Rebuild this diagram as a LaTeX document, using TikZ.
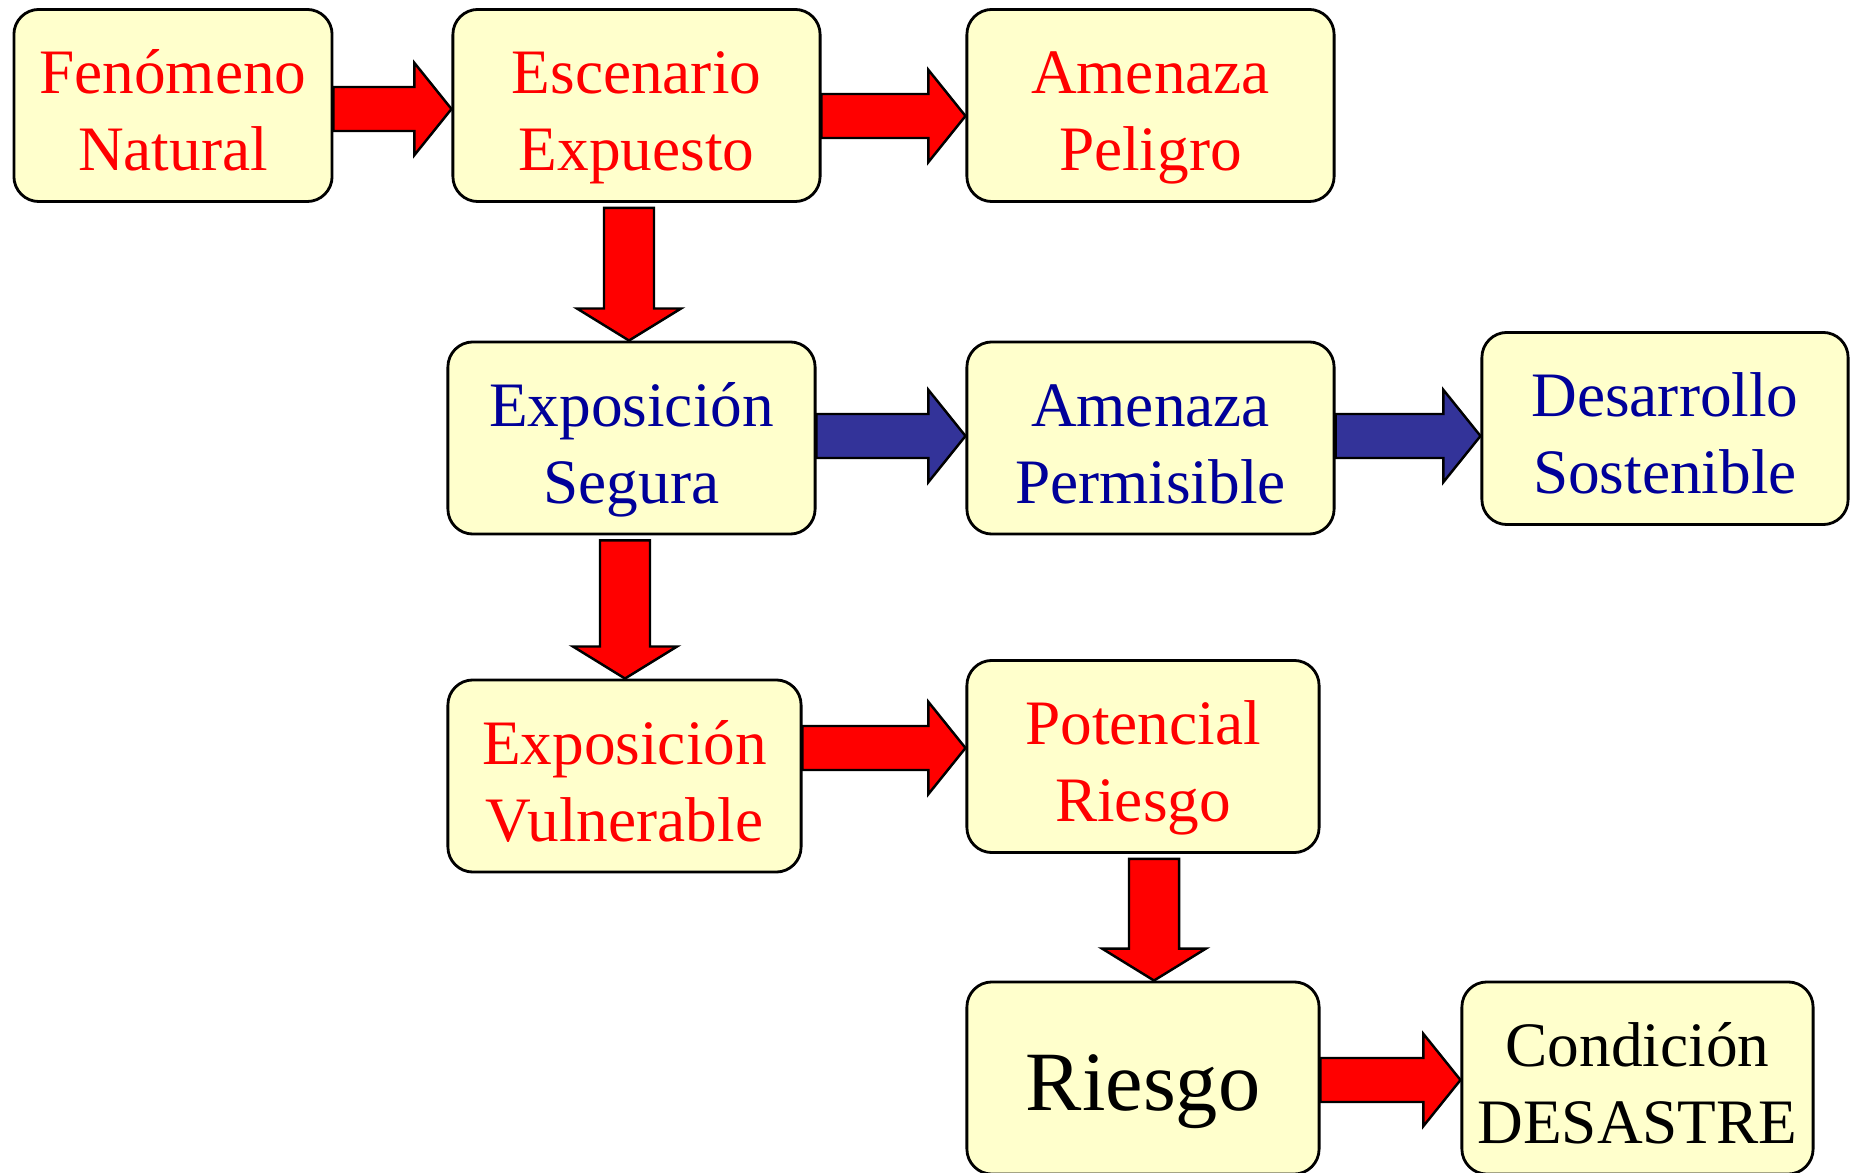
\documentclass[tikz,border=0pt]{standalone}
\usepackage{fontspec}
\setmainfont{Liberation Serif}
\usetikzlibrary{calc}
\definecolor{boxfill}{HTML}{FFFFCC}
\definecolor{txtblue}{HTML}{000099}
\definecolor{arrblue}{HTML}{333399}
\def\hsh{0.22cm}\def\hhh{0.46cm}\def\hhl{0.37cm}
\def\vsh{0.25cm}\def\vhh{0.52cm}\def\vhl{0.32cm}
\newcommand{\harrow}[4][redfill]{\draw[#1] let \p1=($(#2.east)+(0,#4)$), \p2=(#3.west) in
	({\x1},{\y1+\hsh}) -- ({\x2-\hhl},{\y1+\hsh}) -- ({\x2-\hhl},{\y1+\hhh}) -- ({\x2},{\y1})
	-- ({\x2-\hhl},{\y1-\hhh}) -- ({\x2-\hhl},{\y1-\hsh}) -- ({\x1},{\y1-\hsh}) -- cycle;}
\newcommand{\varrow}[4][redfill]{\draw[#1] let \p1=($(#2.south)+(#4,5)$), \p2=(#3.north) in
	({\x1-\vsh},{\y1}) -- ({\x1-\vsh},{\y2+\vhl}) -- ({\x1-\vhh},{\y2+\vhl}) -- ({\x1},{\y2})
	-- ({\x1+\vhh},{\y2+\vhl}) -- ({\x1+\vsh},{\y2+\vhl}) -- ({\x1+\vsh},{\y1}) -- cycle;}
\tikzset{
	box/.style={draw=black, line width=0.8pt, fill=boxfill, rounded corners=0.25cm, align=center,
		minimum height=1.92cm, inner sep=0pt, font=\fontsize{18}{21.9}\selectfont,
		text height=42pt, text depth=4.8pt},
	bigbox/.style={box, font=\fontsize{24}{29}\selectfont, text height=18.2pt, text depth=0pt},
	redfill/.style={draw=black, line width=0.7pt, fill=red},
	bluefill/.style={draw=black, line width=0.7pt, fill=arrblue},
}

\begin{document}
\begin{tikzpicture}[x=0.01cm, y=-0.01cm]
			%%%%% START %%%%%
			
			\useasboundingbox (0,0) rectangle (1850,1173);
			
			\node[box, text=red, minimum width=3.18cm] (fenomeno) at (173,105.5) {Fenómeno\\Natural};
			\node[box, text=red, minimum width=3.67cm] (escenario) at (636.5,105.5) {Escenario\\Expuesto};
			\node[box, text=red, minimum width=3.67cm] (peligro) at (1150.5,105.5) {Amenaza\\Peligro};
			
			\node[box, text=txtblue, minimum width=3.67cm] (segura) at (631.5,438) {Exposición\\Segura};
			\node[box, text=txtblue, minimum width=3.67cm] (permisible) at (1150.5,438) {Amenaza\\Permisible};
			\node[box, text=txtblue, minimum width=3.66cm] (desarrollo) at (1665,428.5) {Desarrollo\\Sostenible};
			
			\node[box, text=red, minimum width=3.53cm] (vulnerable) at (624.5,776) {Exposición\\Vulnerable};
			\node[box, text=red, minimum width=3.52cm] (potencial) at (1143,756.5) {Potencial\\Riesgo};
			
			\node[bigbox, minimum width=3.52cm] (riesgo) at (1143,1078) {Riesgo};
			\node[box, minimum width=3.51cm] (desastre) at (1637.5,1078) {Condición\\DESASTRE};
			
			\harrow{fenomeno}{escenario}{3.5}
			\harrow{escenario}{peligro}{10.5}
			\varrow{escenario}{segura}{-7.5}
			
			\harrow[bluefill]{segura}{permisible}{-2}
			\harrow[bluefill]{permisible}{desarrollo}{-2}
			\varrow{segura}{vulnerable}{-6.5}
			
			\harrow{vulnerable}{potencial}{-28}
			\varrow{potencial}{riesgo}{11}
			\harrow{riesgo}{desastre}{2}
			
			%%%%% END %%%%%
\end{tikzpicture}
\end{document}
